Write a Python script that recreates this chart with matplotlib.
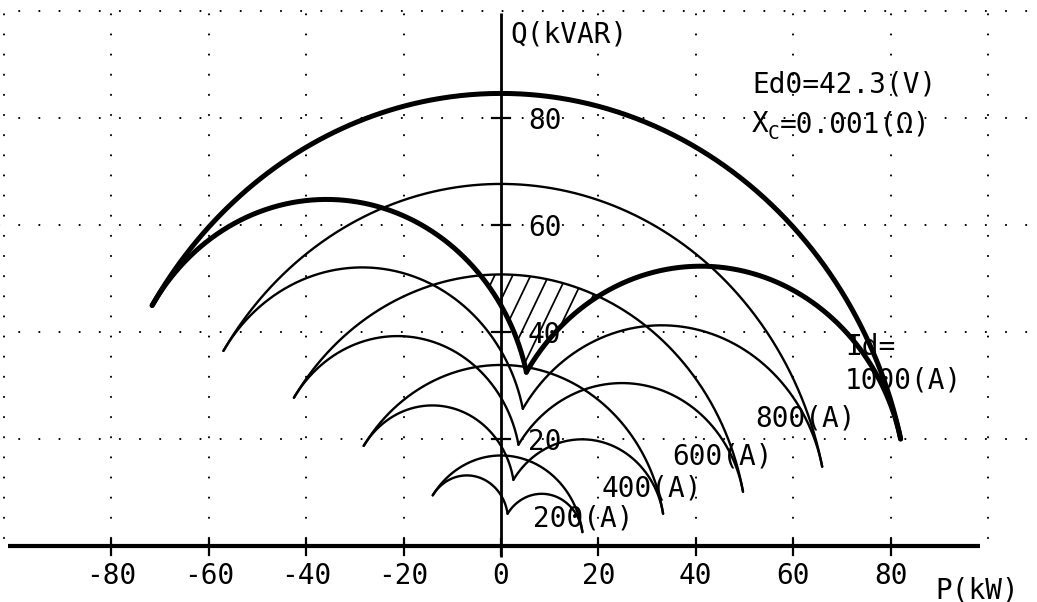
import numpy as np
import matplotlib
matplotlib.use("Agg")
import matplotlib.pyplot as plt
from matplotlib.patches import Polygon

# Converter parameters (two series bridges, sequential control)
ED0 = 42.3          # V, no-load DC voltage per bridge
XC = 0.001          # ohm, commutating reactance
ID_LIST = [200, 400, 600, 800, 1000]            # A
ID_LABELS = ["200(A)", "400(A)", "600(A)", "800(A)", "1000(A)"]
ALPHA_MIN = 7.0     # deg, rectifier limit
ALPHA_MAX = 145.5   # deg, inverter limit

P_TICKS = [-80, -60, -40, -20, 0, 20, 40, 60, 80]
Q_TICKS = [20, 40, 60, 80]
P_GRID = [-102, -80, -60, -40, -20, 20, 40, 60, 80, 100]
Q_GRID = [20, 40, 60, 80, 100]

FONT = "DejaVu Sans Mono"
plt.rcParams["lines.scale_dashes"] = False

W, H = 1037, 602
fig = plt.figure(figsize=(W / 100, H / 100), dpi=100)
ax = fig.add_axes([0, 0, 1, 1])
ax.set_xlim(-501 / 4.87, 536 / 4.87)
ax.set_ylim(-56 / 5.35, 546 / 5.35)
ax.axis("off")


def bridge_pq(alpha_deg, idc):
    """Active/reactive power (kW, kVAR) of one bridge including overlap."""
    a = np.radians(alpha_deg)
    k = 6 * XC * idc / (np.pi * ED0)
    mu = np.arccos(np.cos(a) - k) - a
    p = ED0 * idc * (np.cos(a) - k / 2) / 1000
    q = ED0 * idc * (2 * mu + np.sin(2 * a) - np.sin(2 * (a + mu))) / (4 * k) / 1000
    return p, q


alphas = np.linspace(ALPHA_MIN, ALPHA_MAX, 600)

# dotted grid
dot = dict(color="black", lw=1.5, linestyle=(0, (0.1, 14.4)),
           dash_capstyle="round", zorder=1)
for pg in P_GRID:
    ax.plot([pg, pg], [1.5, 100], **dot)
for qg in Q_GRID:
    ax.plot([-103, 111], [qg, qg], **dot)

curves = {}
for idc in ID_LIST:
    p, q = bridge_pq(alphas, idc)
    p_hi, q_hi = bridge_pq(ALPHA_MAX, idc)
    p_lo, q_lo = bridge_pq(ALPHA_MIN, idc)
    big = (2 * p, 2 * q)
    left = (p_hi + p, q_hi + q)
    right = (p_lo + p, q_lo + q)
    curves[idc] = (big, left, right)
    lw = 3.6 if idc == 1000 else 1.7
    for cp, cq in (big, left, right):
        ax.plot(cp, cq, color="black", lw=lw, solid_capstyle="round", zorder=3)

# hatched zone: inside the 600 A circle, above the 1000 A scallops
big6 = curves[600][0]
left10, right10 = curves[1000][1], curves[1000][2]
pg = np.linspace(-20, 40, 2000)
top = np.interp(pg, big6[0][::-1], big6[1][::-1], left=np.nan, right=np.nan)
bl = np.interp(pg, left10[0][::-1], left10[1][::-1], left=-np.inf, right=-np.inf)
br = np.interp(pg, right10[0][::-1], right10[1][::-1], left=-np.inf, right=-np.inf)
bot = np.maximum(bl, br)
m = top > bot
pm = pg[m]
verts = np.vstack([np.column_stack([pm, top[m]]),
                   np.column_stack([pm[::-1], bot[m][::-1]])])
zone = Polygon(verts, closed=True, facecolor="none", edgecolor="none")
ax.add_patch(zone)
slope = 1.9
for c in np.arange(-1.6 - 3 * 3.7, 30, 3.7):
    qq = np.array([15.0, 60.0])
    ln, = ax.plot(c + (qq - 50) / slope, qq, color="black", lw=1.25, zorder=2)
    ln.set_clip_path(zone)

# axes
ax.plot([-101.2, 98.4], [0, 0], color="black", lw=3.0, solid_capstyle="butt", zorder=4)
ax.plot([0, 0], [-2.0, 99.6], color="black", lw=2.0, solid_capstyle="butt", zorder=4)
for pt in P_TICKS:
    ax.plot([pt, pt], [-1.7, 1.3], color="black", lw=1.6, zorder=4)
    ax.annotate(str(pt), xy=(pt, 0), xytext=(0, -38), textcoords="offset pixels",
                ha="center", va="baseline", fontsize=20, family=FONT)
for qt in Q_TICKS:
    ax.plot([-1.8, 1.8], [qt, qt], color="black", lw=1.6, zorder=4)
    ax.annotate(str(qt), xy=(0, qt), xytext=(27, -11), textcoords="offset pixels",
                ha="left", va="baseline", fontsize=20, family=FONT)


def ptext(x, y, s, size=20):
    fig.text(x / W, 1 - y / H, s, fontsize=size, ha="left", va="baseline",
             family=FONT)


ptext(510, 42, "Q(kVAR)")
ptext(935, 598, "P(kW)")
ptext(752, 93, "Ed0=42.3(V)")
ptext(752, 132, "X")
ptext(768, 139, "C", size=14)
ptext(780, 132, "=0.001(Ω)")
ptext(845, 355, "Id=")
label_pos = [(533, 527), (602, 497), (672, 465), (755, 427), (845, 388)]
for lbl, (lx, ly) in zip(ID_LABELS, label_pos):
    ptext(lx, ly, lbl)

fig.savefig("out.png", dpi=100, facecolor="white")
